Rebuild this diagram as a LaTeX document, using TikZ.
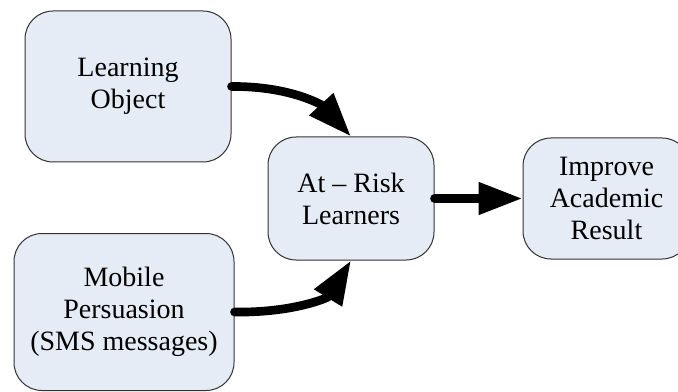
\documentclass[tikz,border=0pt]{standalone}
\usepackage{fontspec}
\setmainfont{Liberation Serif}
\usetikzlibrary{arrows.meta}
\definecolor{boxfill}{RGB}{230,236,246}
\definecolor{boxline}{RGB}{50,50,50}
\tikzset{every picture/.style={line width=0.75pt}}
\tikzset{
  roundbox/.style={draw=boxline, fill=boxfill, rounded corners=21pt, align=center, inner sep=0.75pt,
    font=\fontsize{21pt}{24pt}\selectfont},
  fatarrow/.style={line width=6.5pt, line cap=round, -{Triangle[length=33pt,width=23pt]}}
}

\begin{document}
\begin{tikzpicture}[x=0.75pt,y=0.75pt,yscale=-1,xscale=1]
\useasboundingbox (0,0) rectangle (678,392);

% Boxes
\node [roundbox, minimum width=154.5pt, minimum height=113.25pt] (lo) at (128,86.5) {Learning\\Object};
\node [roundbox, minimum width=165pt, minimum height=117.75pt] (mp) at (124,312) {Mobile\\Persuasion\\(SMS messages)};
\node [roundbox, minimum width=124.5pt, minimum height=92.25pt] (arl) at (351,198.5) {At -- Risk\\Learners};
\node [roundbox, minimum width=125.25pt, minimum height=90.75pt] (iar) at (606.5,198.5) {Improve\\Academic\\Result};

% Arrows
\draw [fatarrow] (lo.east) .. controls (290,86) and (322,105) .. (arl.north);
\draw [fatarrow] (mp.east) .. controls (292,313) and (328,298) .. (arl.south);
\draw [fatarrow] (arl.east) -- (iar.west);

\end{tikzpicture}
\end{document}
